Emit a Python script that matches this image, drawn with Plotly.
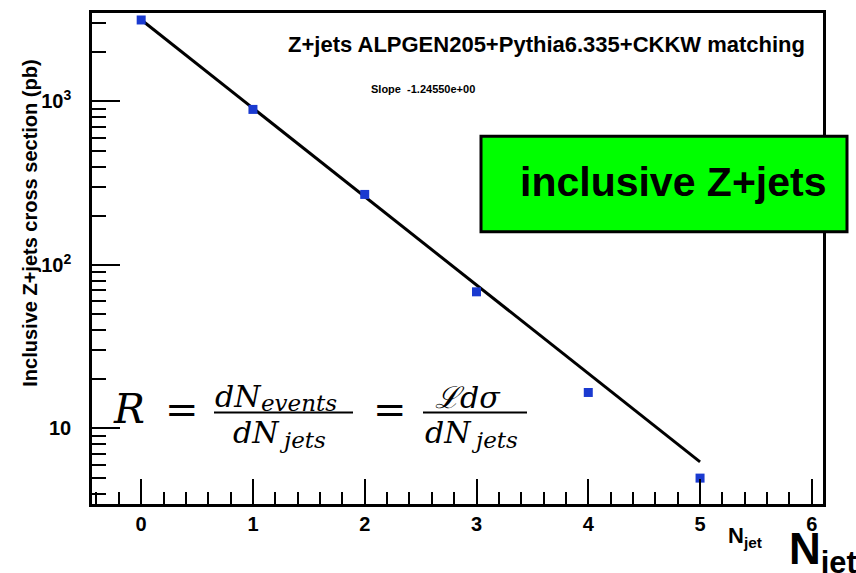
import numpy as np
import plotly.graph_objects as go

# ---------------- data ----------------
n_jet = [0, 1, 2, 3, 4, 5]
xsec_pb = [3150, 894, 270, 68.5, 16.6, 4.97]
fit_p0 = 8.059          # ln-intercept of exponential fit
fit_slope = -1.24550    # ln-slope of exponential fit
fit_range = [0, 5]
x_ticks = [0, 1, 2, 3, 4, 5, 6]
y_tickvals = [10, 100, 1000]
y_ticktext = ["10", "10<sup>2</sup>", "10<sup>3</sup>"]

# ---------------- geometry ----------------
W, H = 856, 573
L, R, T, B = 92, 33, 10, 69
PW, PH = W - L - R, H - T - B


def px(x):
    return (x - L) / PW


def py(y):
    return (H - B - y) / PH


fit_x = np.array(fit_range, dtype=float)
fit_y = np.exp(fit_p0 + fit_slope * fit_x)

fig = go.Figure()
fig.add_trace(go.Scatter(x=fit_x, y=fit_y, mode="lines",
                         line=dict(color="black", width=3), hoverinfo="skip"))
fig.add_trace(go.Scatter(x=n_jet, y=xsec_pb, mode="markers",
                         marker=dict(symbol="square", size=9, color="#1a3ad0",
                                     line=dict(width=0))))

minor_y = [m * 10 ** d for d in range(0, 4) for m in range(2, 10)]

fig.update_layout(
    width=W, height=H, showlegend=False,
    margin=dict(l=L, r=R, t=T, b=B),
    paper_bgcolor="white", plot_bgcolor="white",
    font=dict(family="Liberation Sans, Arial, sans-serif", color="black"),
    xaxis=dict(range=[-0.44, 6.1], showgrid=False, zeroline=False,
               showline=True, linewidth=2.5, linecolor="black", mirror=True,
               ticks="inside", ticklen=25, tickwidth=1.5, tickcolor="black",
               tickvals=x_ticks,
               tickfont=dict(size=20, family="Liberation Sans, Arial", weight="bold"),
               minor=dict(dtick=0.2, tick0=0, ticks="inside", ticklen=12,
                          tickwidth=1.5, tickcolor="black", showgrid=False)),
    yaxis=dict(type="log", range=[0.538, 3.541], showgrid=False, zeroline=False,
               showline=True, linewidth=2.5, linecolor="black", mirror=True,
               ticks="inside", ticklen=28, tickwidth=1.5, tickcolor="black",
               tickvals=y_tickvals, ticktext=y_ticktext, ticklabelstandoff=14,
               tickfont=dict(size=20, family="Liberation Sans, Arial", weight="bold"),
               minor=dict(tickvals=minor_y, ticks="inside", ticklen=14,
                          tickwidth=1.5, tickcolor="black", showgrid=False)),
)

bold = dict(family="Liberation Sans, Arial", color="black", weight="bold")
serif = dict(family="DejaVu Serif, serif", color="black", style="italic")
serif_up = dict(family="DejaVu Serif, serif", color="black")


def label(x, y, text, font, xanchor="center", **kw):
    d = dict(x=px(x), y=py(y), xref="paper", yref="paper", text=text,
             showarrow=False, xanchor=xanchor, yanchor="middle", font=font,
             borderpad=0)
    d.update(kw)
    return d


ann = [
    # y-axis title
    label(30, 222, "Inclusive Z+jets cross section (pb)", dict(size=20, **bold),
          textangle=-90),
    # header texts
    label(546, 42, "Z+jets ALPGEN205+Pythia6.335+CKKW matching", dict(size=22, **bold)),
    label(423, 86, f"Slope  {fit_slope:.5e}", dict(size=11, **bold)),
    # green label text
    label(673, 180, "inclusive Z+jets", dict(size=41, **bold)),
    # x-axis labels
    label(745, 537, "N<sub>jet</sub>", dict(size=22, **bold)),
    label(823, 552, "N<sub>jet</sub>", dict(size=44, **bold)),
    # formula
    label(112, 408, "R", dict(size=41, **serif), xanchor="left"),
    label(164, 408, "=", dict(size=40, **serif_up), xanchor="left"),
    label(214, 396, "dN", dict(size=30, **serif), xanchor="left"),
    label(260, 402, "events", dict(size=23, **serif), xanchor="left"),
    label(232, 432, "dN", dict(size=30, **serif), xanchor="left"),
    label(278, 440, "jets", dict(size=23, **serif), xanchor="left"),
    label(372, 408, "=", dict(size=40, **serif_up), xanchor="left"),
    label(434, 397, "\u2112d\u03c3", dict(size=30, **serif), xanchor="left"),
    label(424, 432, "dN", dict(size=30, **serif), xanchor="left"),
    label(470, 440, "jets", dict(size=23, **serif), xanchor="left"),
]
fig.update_layout(annotations=ann)

shapes = [
    dict(type="rect", xref="paper", yref="paper",
         x0=px(481), x1=px(847), y0=py(134), y1=py(230),
         fillcolor="#00ff00", line=dict(color="black", width=3), layer="above"),
    dict(type="line", xref="paper", yref="paper",
         x0=px(214), x1=px(353), y0=py(412), y1=py(412),
         line=dict(color="black", width=2)),
    dict(type="line", xref="paper", yref="paper",
         x0=px(423), x1=px(527), y0=py(412), y1=py(412),
         line=dict(color="black", width=2)),
]
fig.update_layout(shapes=shapes)

fig.write_html("out.html")
